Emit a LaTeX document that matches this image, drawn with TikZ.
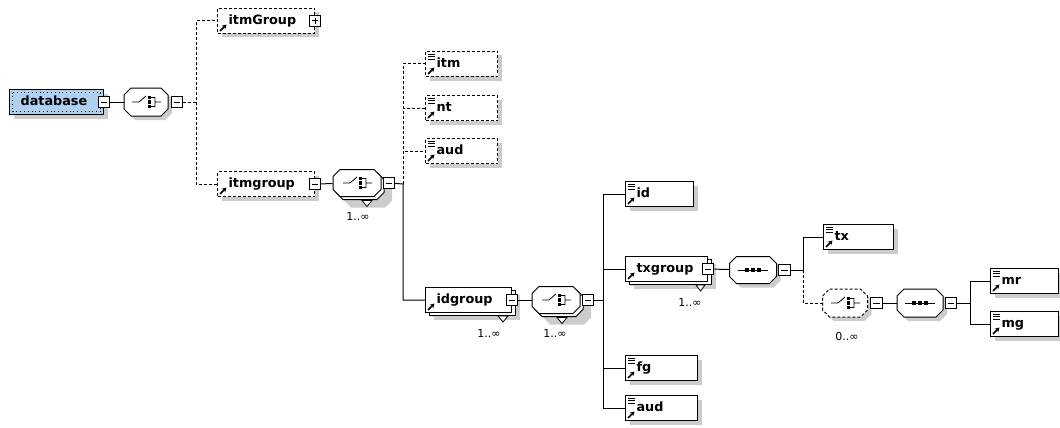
\documentclass[tikz,border=0pt]{standalone}
\usepackage{fontspec}
\setmainfont{DejaVu Sans}
\usetikzlibrary{positioning,shadows,arrows.meta}
\definecolor{rootblue}{HTML}{B0D0F0}
\newcommand\octo[3][]{\draw[#1] (-#2+7,-#3) -- (#2-7,-#3) -- (#2,-#3+7) -- (#2,#3-7) -- (#2-7,#3) -- (-#2+7,#3) -- (-#2,#3-7) -- (-#2,-#3+7) -- cycle;}
\newcommand\chicon{\draw[solid,line width=.8pt] (-14,0) -- (-7,0) -- (0,-6) (9,0) -- (15,0) (5,-4.5) -- (9,-4.5) -- (9,4.5) -- (5,4.5);
  \foreach \s in {-4.5,0,4.5} \fill[black] (1.5,\s-1.75) rectangle (5,\s+1.75);}
\newcommand\sqicon{\draw[solid,line width=.8pt] (-15,0) -- (15,0);
  \foreach \s in {-6,0,6} \fill[black] (\s-1.75,-1.75) rectangle (\s+1.75,1.75);}

\begin{document}
\begin{tikzpicture}[x=1pt,y=-1pt,line width=1pt,
  sh/.style={general shadow={fill=black!20,draw=none,shadow xshift=4pt,shadow yshift=-4pt}},
  shd/.style={fill=black!20,draw=none,shift={(4,4)}},
  el/.style={draw,fill=white,sh,anchor=west,align=left,text width=#1,inner xsep=11pt,inner ysep=0pt,
    minimum height=25pt,text height=9.5pt,text depth=3pt,font=\fontsize{12.8}{14}\selectfont\bfseries},
  op/.style={dash pattern=on 3pt off 2pt},
  dsh/.style={dash pattern=on 3pt off 2pt},
  rt/.style={el=#1,fill=rootblue,line width=1.2pt,
    path picture={\draw[line width=.7pt,dash pattern=on .8pt off 3pt]
      ([shift={(3,3)}]path picture bounding box.north west) rectangle ([shift={(-3,-3)}]path picture bounding box.south east);}},
  rf/.style={path picture={\draw[solid,line width=1.5pt,-{Stealth[length=4.5pt,width=5pt]}]
      ([shift={(2.5,-2.5)}]path picture bounding box.south west) -- ++(6.5,-6.5);}},
  rs/.style={path picture={\draw[solid,line width=1.5pt,-{Stealth[length=4.5pt,width=5pt]}]
      ([shift={(2.5,-2.5)}]path picture bounding box.south west) -- ++(6.5,-6.5);
    \foreach \d in {2.5,5,7.5} \draw[solid,line width=.7pt] ([shift={(2.5,\d)}]path picture bounding box.north west) -- ++(6.5,0);}},
  tg/.style={draw,solid,fill=white,minimum size=11.5pt,inner sep=0pt,
    path picture={\draw ([xshift=2.5pt]path picture bounding box.west) -- ([xshift=-2.5pt]path picture bounding box.east);}},
  tp/.style={tg,path picture={\draw ([xshift=2.5pt]path picture bounding box.west) -- ([xshift=-2.5pt]path picture bounding box.east)
      ([yshift=2.5pt]path picture bounding box.south) -- ([yshift=-2.5pt]path picture bounding box.north);}},
  co/.style={inner sep=0pt,minimum width=#1,minimum height=28pt},
  mu/.style={general shadow={fill=black!20,draw=none,shadow xshift=8pt,shadow yshift=-7pt},
    copy shadow={shadow xshift=4pt,shadow yshift=-3pt}},
  tri/.style={draw,fill=white,line width=.8pt},
  mul/.style={font=\fontsize{11}{12}\selectfont}]
  \useasboundingbox (0,0) rectangle (1060,428);
  \node[rt=72pt] (db) at (9,102) {database};
  \node[tg] (dbm) at (db.east) {};
  \node[co=44pt] (c1) at (146,102) {};
  \begin{scope}[shift={(c1)}]
    \octo[shd]{22}{14} \octo[fill=white]{22}{14} \chicon
  \end{scope}
  \node[tg,right=2pt of c1] (c1m) {};
  \coordinate (j1) at (196,102);
  \node[el=75pt,op,rf] (iG) at (217,21) {itmGroup};
  \node[tp] (iGp) at (iG.east) {};
  \node[el=75pt,op,rf] (ig) at (217,184) {itmgroup};
  \node[tg] (igm) at (ig.east) {};
  \node[co=48pt] (c2) at (357,183) {};
  \begin{scope}[shift={(c2)}]
    \octo[shd,shift={(7,7)}]{24}{13.5} \octo[fill=white,shift={(3,3)}]{24}{13.5}
    \octo[fill=white]{24}{13.5} \chicon
  \end{scope}
  \node[tg,right=1pt of c2] (c2m) {};
  \draw[tri] ([shift={(5,3)}]c2.south) -- ++(10,0) -- ++(-5,6) -- cycle;
  \node[mul] (l2) at (358,216) {1..∞};
  \coordinate (j2) at (403,184);
  \node[el=50pt,op,rs] (itm) at (425,64) {itm};
  \node[el=50pt,op,rs] (nt) at (425,108) {nt};
  \node[el=50pt,op,rs] (au1) at (425,151) {aud};
  \node[el=64pt,rf,mu] (idg) at (425,300) {idgroup};
  \node[tg] (idgm) at (idg.east) {};
  \draw[tri] ([shift={(-14,3)}]idg.south east) -- ++(10,0) -- ++(-5,6) -- cycle;
  \node[mul] (l3) at (489,333) {1..∞};
  \node[co=48pt] (c3) at (556,300) {};
  \begin{scope}[shift={(c3)}]
    \octo[shd,shift={(7,7)}]{24}{13.5} \octo[fill=white,shift={(3,3)}]{24}{13.5}
    \octo[fill=white]{24}{13.5} \chicon
  \end{scope}
  \node[tg,right=1pt of c3] (c3m) {};
  \draw[tri] ([shift={(1,3)}]c3.south) -- ++(10,0) -- ++(-5,6) -- cycle;
  \node[mul] (l4) at (555,333) {1..∞};
  \coordinate (j3) at (603,300);
  \node[el=46pt,rs] (id) at (625,194) {id};
  \node[el=60pt,rf,mu] (txg) at (625,269) {txgroup};
  \node[tg] (txgm) at (txg.east) {};
  \draw[tri] ([shift={(-12,3)}]txg.south east) -- ++(9,0) -- ++(-4.5,6) -- cycle;
  \node[mul] (l5) at (690,302) {1..∞};
  \node[el=50pt,rs] (fg) at (625,368) {fg};
  \node[el=50pt,rs] (au2) at (625,408) {aud};
  \node[co=47pt] (s4) at (753,270) {};
  \begin{scope}[shift={(s4)}]
    \octo[shd]{23.5}{13.5} \octo[fill=white]{23.5}{13.5} \sqicon
  \end{scope}
  \node[tg,right=1pt of s4] (s4m) {};
  \coordinate (j4) at (803,270);
  \node[el=48pt,rs] (tx) at (823,237) {tx};
  \node[co=45pt] (c5) at (845,303) {};
  \begin{scope}[shift={(c5)}]
    \octo[shd]{22.5}{14} \octo[fill=white,op]{22.5}{14} \chicon
  \end{scope}
  \node[tg,right=2pt of c5] (c5m) {};
  \node[mul] (l6) at (847,336) {0..∞};
  \node[co=46pt] (s6) at (920,303) {};
  \begin{scope}[shift={(s6)}]
    \octo[shd]{23}{14} \octo[fill=white]{23}{14} \sqicon
  \end{scope}
  \node[tg,right=1pt of s6] (s6m) {};
  \coordinate (j5) at (970,303);
  \node[el=46pt,rs] (mr) at (990,281) {mr};
  \node[el=46pt,rs] (mg) at (990,324) {mg};
  \draw (dbm) -- (c1);
  \draw[dsh] (c1m) -- (j1) |- (iG);
  \draw[dsh] (j1) |- (ig);
  \draw (igm) -- (c2);
  \draw (c2m) -- (j2) |- (idg);
  \draw[dsh] (j2) |- (itm);
  \draw[dsh] (j2) |- (nt);
  \draw[dsh] (j2) |- (au1);
  \draw (idgm) -- (c3);
  \draw (c3m) -- (j3) |- (id);
  \draw (j3) |- (txg);
  \draw (j3) |- (fg);
  \draw (j3) |- (au2);
  \draw (txgm) -- (s4);
  \draw (s4m) -- (j4) |- (tx);
  \draw[dsh] (j4) |- (c5);
  \draw (c5m) -- (s6);
  \draw (s6m) -- (j5) |- (mr);
  \draw (j5) |- (mg);
\end{tikzpicture}
\end{document}
